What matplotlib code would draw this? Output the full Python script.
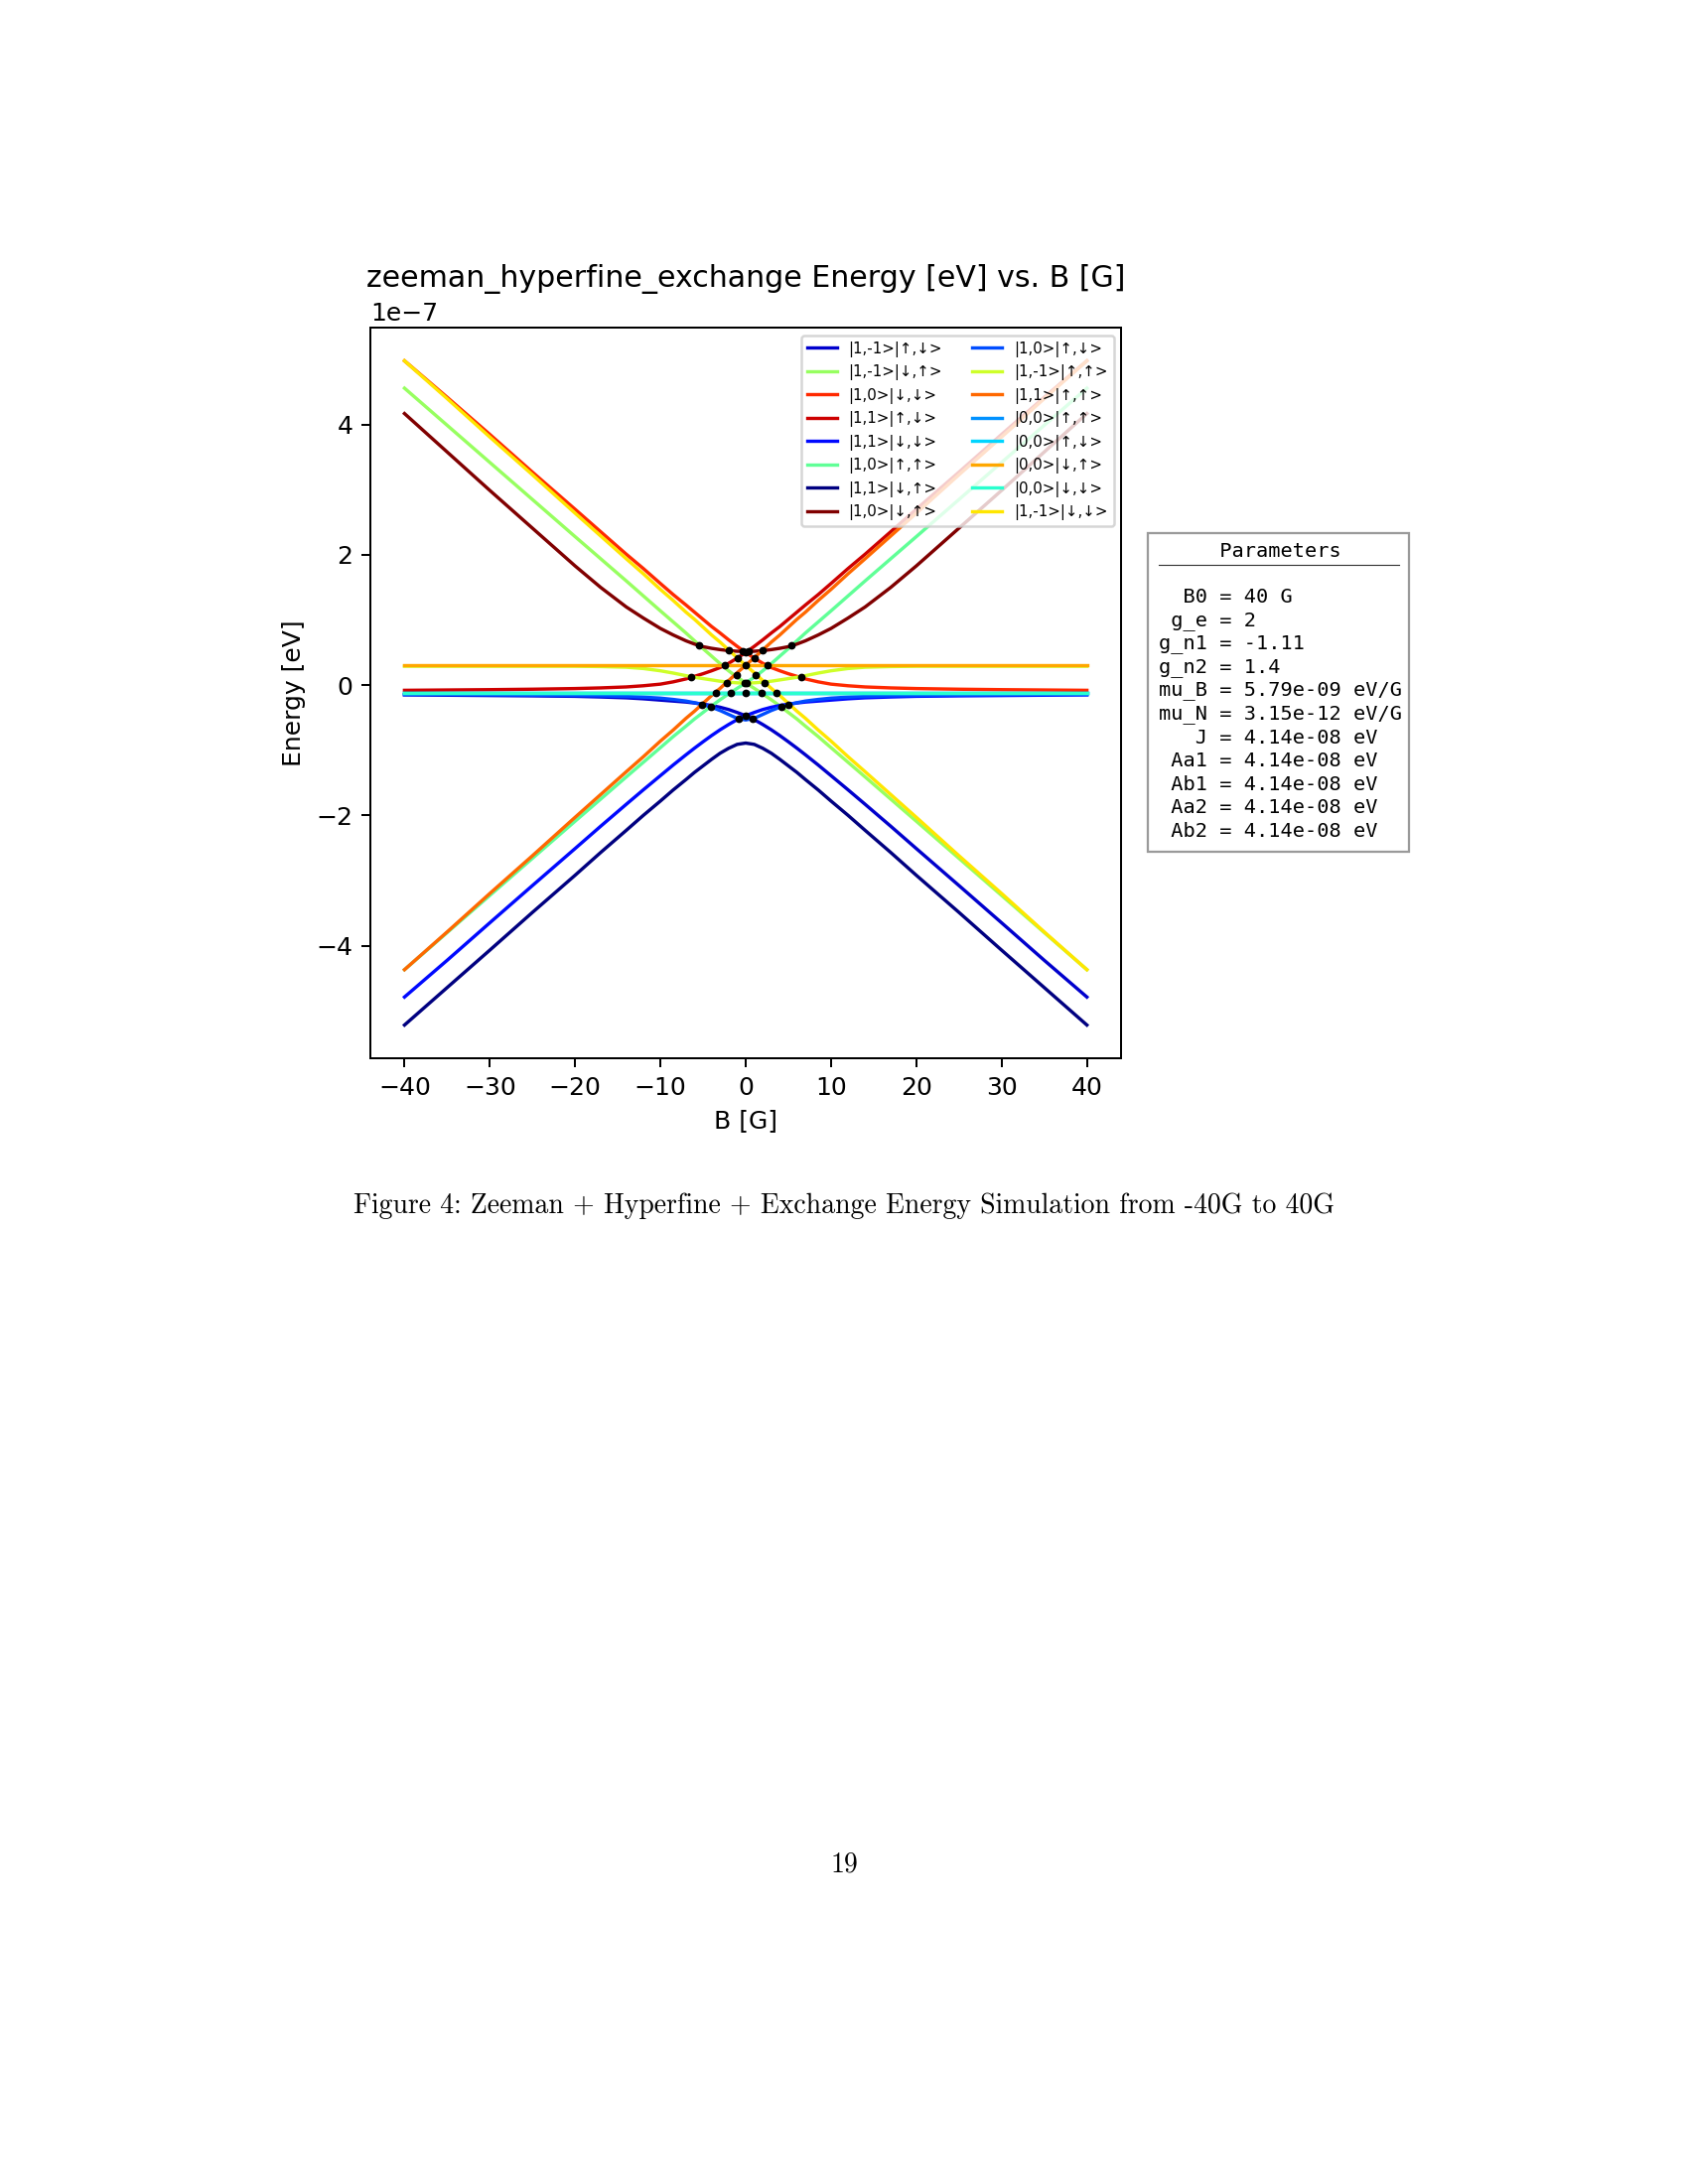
import numpy as np
import matplotlib
matplotlib.use("Agg")
import matplotlib.pyplot as plt
from matplotlib.patches import Rectangle
from matplotlib.lines import Line2D

B = [-40, -35, -30, -25, -20, -17, -14, -12, -10, -8.5, -7, -6, -5, -4, -3, -2, -1, 0,
     1, 2, 3, 4, 5, 6, 7, 8.5, 10, 12, 14, 17, 20, 25, 30, 35, 40]
# the flat levels only need their end points
B_ends = [-40, 40]

# energies in units of 1e-7 eV, one list per legend entry
e_1m1_ud = [-0.15, -0.155, -0.16, -0.165, -0.172, -0.182, -0.195, -0.21, -0.23, -0.245, -0.26, -0.275, -0.292,
            -0.313, -0.34, -0.375, -0.42, -0.47, -0.53, -0.605, -0.686, -0.775, -0.87, -0.968, -1.07, -1.227,
            -1.39, -1.608, -1.83, -2.167, -2.51, -3.078, -3.65, -4.226, -4.79]
e_1m1_du = [4.56, 3.99, 3.42, 2.85, 2.28, 1.94, 1.60, 1.37, 1.14, 0.97, 0.80, 0.68, 0.56, 0.445, 0.33, 0.22,
            0.12, 0.035, -0.05, -0.135, -0.225, -0.32, -0.42, -0.52, -0.63, -0.79, -0.96, -1.185, -1.41,
            -1.75, -2.09, -2.66, -3.23, -3.80, -4.37]
e_10_dd = [4.98, 4.42, 3.85, 3.27, 2.70, 2.355, 2.01, 1.79, 1.56, 1.39, 1.23, 1.12, 1.01, 0.90, 0.80, 0.695,
           0.595, 0.50, 0.415, 0.335, 0.27, 0.22, 0.175, 0.135, 0.095, 0.05, 0.015, -0.01, -0.028, -0.043,
           -0.053, -0.063, -0.07, -0.075, -0.08]
e_11_ud = [-0.08, -0.075, -0.07, -0.063, -0.053, -0.043, -0.028, -0.01, 0.015, 0.05, 0.095, 0.135, 0.175,
           0.22, 0.27, 0.335, 0.415, 0.50, 0.595, 0.695, 0.80, 0.90, 1.01, 1.12, 1.23, 1.39, 1.56, 1.79,
           2.01, 2.355, 2.70, 3.27, 3.85, 4.42, 4.98]
e_11_dd = [-4.79, -4.226, -3.65, -3.078, -2.51, -2.167, -1.83, -1.608, -1.39, -1.227, -1.07, -0.968, -0.87,
           -0.775, -0.686, -0.605, -0.53, -0.47, -0.42, -0.375, -0.34, -0.313, -0.292, -0.275, -0.26, -0.245,
           -0.23, -0.21, -0.195, -0.182, -0.172, -0.165, -0.16, -0.155, -0.15]
e_10_uu = [-4.37, -3.80, -3.23, -2.66, -2.09, -1.75, -1.41, -1.185, -0.96, -0.79, -0.63, -0.52, -0.42, -0.32,
           -0.225, -0.135, -0.05, 0.035, 0.12, 0.22, 0.33, 0.445, 0.56, 0.68, 0.80, 0.97, 1.14, 1.37, 1.60,
           1.94, 2.28, 2.85, 3.42, 3.99, 4.56]
e_11_du = [-5.22, -4.645, -4.07, -3.49, -2.92, -2.57, -2.23, -2.00, -1.78, -1.61, -1.45, -1.34, -1.24, -1.14,
           -1.046, -0.97, -0.91, -0.89, -0.91, -0.97, -1.046, -1.14, -1.24, -1.34, -1.45, -1.61, -1.78, -2.00,
           -2.23, -2.57, -2.92, -3.49, -4.07, -4.645, -5.22]
e_10_du = [4.17, 3.58, 2.99, 2.41, 1.83, 1.50, 1.20, 1.03, 0.87, 0.77, 0.68, 0.63, 0.59, 0.565, 0.545, 0.53,
           0.52, 0.52, 0.52, 0.53, 0.545, 0.565, 0.59, 0.63, 0.68, 0.77, 0.87, 1.03, 1.20, 1.50, 1.83, 2.41,
           2.99, 3.58, 4.17]
e_10_ud = [-0.145, -0.145, -0.15, -0.155, -0.16, -0.165, -0.175, -0.185, -0.20, -0.22, -0.245, -0.27, -0.30,
           -0.34, -0.39, -0.45, -0.51, -0.535, -0.51, -0.45, -0.39, -0.34, -0.30, -0.27, -0.245, -0.22, -0.20,
           -0.185, -0.175, -0.165, -0.16, -0.155, -0.15, -0.145, -0.145]
e_1m1_uu = [0.29, 0.29, 0.29, 0.29, 0.29, 0.285, 0.275, 0.255, 0.22, 0.185, 0.145, 0.12, 0.10, 0.08, 0.06,
            0.045, 0.035, 0.03, 0.035, 0.045, 0.06, 0.08, 0.10, 0.12, 0.145, 0.185, 0.22, 0.255, 0.275, 0.285,
            0.29, 0.29, 0.29, 0.29, 0.29]
e_11_uu = [-4.37, -3.79, -3.20, -2.62, -2.03, -1.68, -1.33, -1.10, -0.86, -0.69, -0.51, -0.40, -0.28, -0.16,
           -0.05, 0.07, 0.19, 0.305, 0.42, 0.54, 0.66, 0.77, 0.89, 1.01, 1.12, 1.30, 1.47, 1.71, 1.94, 2.29,
           2.64, 3.23, 3.81, 4.40, 4.98]
e_00_uu = [-0.115, -0.115]
e_00_ud = [-0.115, -0.115]
e_00_du = [0.30, 0.30]
e_00_dd = [-0.115, -0.115]
e_1m1_dd = [4.98, 4.40, 3.81, 3.23, 2.64, 2.29, 1.94, 1.71, 1.47, 1.30, 1.12, 1.01, 0.89, 0.77, 0.66, 0.54,
            0.42, 0.305, 0.19, 0.07, -0.05, -0.16, -0.28, -0.40, -0.51, -0.69, -0.86, -1.10, -1.33, -1.68,
            -2.03, -2.62, -3.20, -3.79, -4.37]

labels = ["|1,-1>|↑,↓>", "|1,-1>|↓,↑>", "|1,0>|↓,↓>", "|1,1>|↑,↓>",
          "|1,1>|↓,↓>", "|1,0>|↑,↑>", "|1,1>|↓,↑>", "|1,0>|↓,↑>",
          "|1,0>|↑,↓>", "|1,-1>|↑,↑>", "|1,1>|↑,↑>", "|0,0>|↑,↑>",
          "|0,0>|↑,↓>", "|0,0>|↓,↑>", "|0,0>|↓,↓>", "|1,-1>|↓,↓>"]
curves = [e_1m1_ud, e_1m1_du, e_10_dd, e_11_ud, e_11_dd, e_10_uu, e_11_du, e_10_du,
          e_10_ud, e_1m1_uu, e_11_uu, e_00_uu, e_00_ud, e_00_du, e_00_dd, e_1m1_dd]
# position of each curve in the jet colour list
color_idx = [1, 8, 13, 14, 2, 7, 0, 15, 3, 9, 12, 4, 5, 11, 6, 10]

# crossing points marked with black dots (B [G], E [1e-7 eV])
cross_B = [-5.48, -2.0, -0.35, 0.0, 0.35, 2.0, 5.4, -0.9, 1.0, -2.45, 0.0, 2.55,
           -6.45, 6.55, -1.1, 1.2, -2.2, -0.1, 0.1, 2.25, -3.5, -1.7, 0.0, 1.85, 3.6,
           -5.1, -4.05, 4.2, 5.05, -0.78, 0.82, 0.0]
cross_E = [0.61, 0.53, 0.52, 0.50, 0.52, 0.53, 0.61, 0.415, 0.415, 0.30, 0.30, 0.30,
           0.12, 0.12, 0.16, 0.16, 0.035, 0.035, 0.035, 0.035, -0.117, -0.117, -0.117, -0.117, -0.117,
           -0.30, -0.33, -0.33, -0.30, -0.52, -0.52, -0.47]

param_names = ["B0", "g_e", "g_n1", "g_n2", "mu_B", "mu_N", "J", "Aa1", "Ab1", "Aa2", "Ab2"]
param_values = ["40 G", "2", "-1.11", "1.4", "5.79e-09 eV/G", "3.15e-12 eV/G",
                "4.14e-08 eV", "4.14e-08 eV", "4.14e-08 eV", "4.14e-08 eV", "4.14e-08 eV"]

W, H = 1700, 2200
DPI = 180
fig = plt.figure(figsize=(W / DPI, H / DPI), dpi=DPI)
ax = fig.add_axes([373 / W, 1 - 1066 / H, 756 / W, 736 / H])

colors = plt.cm.jet(np.linspace(0, 1, 16))
for lab, e, ci in zip(labels, curves, color_idx):
    x = B_ends if len(e) == 2 else B
    ax.plot(x, np.array(e) * 1e-7, color=colors[ci], label=lab, linewidth=1.35)
ax.plot(cross_B, np.array(cross_E) * 1e-7, "o", color="black", markersize=2.1, zorder=5)

ax.set_title("zeeman_hyperfine_exchange Energy [eV] vs. B [G]")
ax.set_xlabel("B [G]")
ax.set_ylabel("Energy [eV]")
ax.legend(loc="upper right", ncol=2, fontsize=6)

# parameter box to the right of the plot
fig.add_artist(Rectangle((1156 / W, 1 - 858 / H), 263 / W, 321 / H, transform=fig.transFigure,
                         facecolor="white", edgecolor="#9a9a9a", linewidth=0.9))
x0 = 1167 / W
fig.text(x0, 1 - 555.5 / H, "     Parameters", family="DejaVu Sans Mono", fontsize=8.1, va="center")
fig.add_artist(Line2D([x0, 1409 / W], [1 - 569.5 / H, 1 - 569.5 / H], transform=fig.transFigure,
                      color="#333333", linewidth=0.45))
for i, (n, v) in enumerate(zip(param_names, param_values)):
    fig.text(x0, 1 - (601.7 + 23.57 * i) / H, f"{n:>4} = {v}", family="DejaVu Sans Mono",
             fontsize=8.1, va="center")

fig.text(0.5, 1 - 1214.6 / H, "Figure 4: Zeeman + Hyperfine + Exchange Energy Simulation from -40G to 40G",
         family="cmr10", fontsize=11.1, ha="center", va="center")
fig.text(0.5, 1 - 1878 / H, "19", family="cmr10", fontsize=11.1, ha="center", va="center")

fig.savefig("out.png", dpi=DPI)
